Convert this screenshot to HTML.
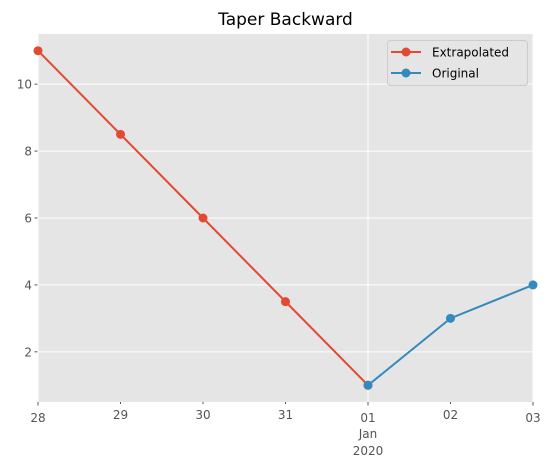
<!DOCTYPE html>
<html><head><meta charset="utf-8"><style>
body{margin:0;background:#fff}
svg{display:block;font-family:"DejaVu Sans","Liberation Sans",sans-serif}
</style></head><body>
<svg id="c" width="552" height="469"></svg>
<script>
const categories=["28","29","30","31","01","02","03"];
const extrapolated=[11,8.5,6,3.5,1];
const original=[1,3,4];
const originalStart=4;
const yTicks=[2,4,6,8,10];
const L=38,R=533,T=34,B=402,ymin=0.5,ymax=11.5;
const xs=i=>L+(R-L)*i/(categories.length-1);
const ys=v=>B-(B-T)*(v-ymin)/(ymax-ymin);
const svg=document.getElementById('c');
const NS='http://www.w3.org/2000/svg';
function mk(t,a,p){const e=document.createElementNS(NS,t);for(const k in a)e.setAttribute(k,a[k]);(p||svg).appendChild(e);return e;}
let e=mk('rect',{x:L,y:T,width:R-L,height:B-T,fill:'#e5e5e5'});


e=mk('text',{x:(L+R)/2,y:25,'text-anchor':'middle','font-size':17,fill:'#000'});e.textContent='Taper Backward';


yTicks.forEach(v=>{
 e=mk('line',{x1:L,x2:R,y1:ys(v),y2:ys(v),stroke:'#fff','stroke-width':1});
 
 
 mk('line',{x1:L-3.5,x2:L,y1:ys(v),y2:ys(v),stroke:'#555'});
 e=mk('text',{x:L-6,y:ys(v)+4.5,'text-anchor':'end','font-size':12,fill:'#555'});e.textContent=v;
 
 
});
categories.forEach((c,i)=>{
 const major=(i===0||i===4||i===6);
 if(major){
  e=mk('line',{x1:xs(i),x2:xs(i),y1:T,y2:B,stroke:'#fff','stroke-width':1});
  
  
 }
 mk('line',{x1:xs(i),x2:xs(i),y1:B,y2:B+(major?3.5:2),stroke:'#555'});
 e=mk('text',{x:xs(i),y:B+(major?20:17),'text-anchor':'middle','font-size':12,fill:'#555'});e.textContent=c;
 
 
});
e=mk('text',{x:xs(4),y:B+36,'text-anchor':'middle','font-size':12,fill:'#555'});e.textContent='Jan';


e=mk('text',{x:xs(4),y:B+53,'text-anchor':'middle','font-size':12,fill:'#555'});e.textContent='2020';


function series(vals,start,col,name){
 const g=mk('g',{});
 
 
 mk('polyline',{points:vals.map((v,i)=>xs(start+i)+','+ys(v)).join(' '),fill:'none',stroke:col,'stroke-width':2}, g);
 vals.forEach((v,i)=>{const c=mk('circle',{cx:xs(start+i),cy:ys(v),r:4.5,fill:col},g);
  
  });
}
series(extrapolated,0,'#e24a33','extrapolated-series');
series(original,originalStart,'#348abd','original-series');
const lg=mk('g',{});


mk('rect',{x:387.5,y:40.5,width:140,height:45,rx:3,fill:'#e5e5e5',stroke:'#ccc'},lg);
[['Extrapolated','#e24a33',52],['Original','#348abd',73]].forEach(([t,c,y])=>{
 mk('line',{x1:391,x2:421,y1:y,y2:y,stroke:c,'stroke-width':2},lg);
 mk('circle',{cx:406,cy:y,r:4.5,fill:c},lg);
 const tx=mk('text',{x:432,y:y+4.5,'font-size':12,fill:'#000'},lg);tx.textContent=t;
 
 
});
</script>
</body></html>
